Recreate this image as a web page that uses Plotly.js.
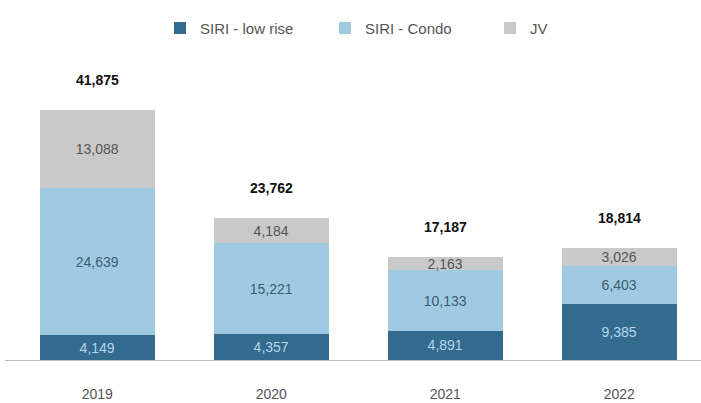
<!DOCTYPE html>
<html><head><meta charset="utf-8">
<script src="https://cdn.plot.ly/plotly-3.0.1.min.js"></script>
<style>html,body{margin:0;padding:0;background:#fff;}#chart{width:701px;height:403px;}</style>
</head><body><div id="chart"></div>
<script>
const years = ['2019','2020','2021','2022'];
const lowRise = [4149, 4357, 4891, 9385];
const condo = [24639, 15221, 10133, 6403];
const jv = [13088, 4184, 2163, 3026];
const totals = [41875, 23762, 17187, 18814];

const fmt = v => v.toLocaleString('en-US');
const font = 'Liberation Sans, Arial, sans-serif';

const traces = [
  {type:'bar', name:'SIRI - low rise', x:years, y:lowRise, marker:{color:'#336b8f'},
   text:lowRise.map(fmt), textposition:'inside', insidetextanchor:'middle', textangle:0, constraintext:'none',
   textfont:{color:'#b3d6ec', size:14, family:font}, hoverinfo:'skip'},
  {type:'bar', name:'SIRI - Condo', x:years, y:condo, marker:{color:'#9fcae2'},
   text:condo.map(fmt), textposition:'inside', insidetextanchor:'middle', textangle:0, constraintext:'none',
   textfont:{color:'#3d5d73', size:14, family:font}, hoverinfo:'skip'},
  {type:'bar', name:'JV', x:years, y:jv, marker:{color:'#c9c9c9'},
   text:jv.map(fmt), textposition:'inside', insidetextanchor:'middle', textangle:0, constraintext:'none',
   textfont:{color:'#555555', size:14, family:font}, hoverinfo:'skip'}
];

const annotations = years.map((yr, i) => ({
  x: i, y: totals[i], xref:'x', yref:'y', text: fmt(totals[i]),
  showarrow:false, yanchor:'middle', yshift:30,
  font:{color:'#111', size:14, family:font, weight:'bold'}
}));

const layout = {
  width:701, height:403,
  margin:{l:5, r:0, t:60, b:43},
  barmode:'stack', bargap:0.34,
  paper_bgcolor:'#fff', plot_bgcolor:'#fff',
  font:{family:font, color:'#555', size:13},
  showlegend:true,
  legend:{orientation:'h', x:160/701, xanchor:'left', xref:'container', yref:'container', y:0.93, yanchor:'middle',
    font:{size:15, color:'#555', family:font}, traceorder:'normal', entrywidth:120, entrywidthmode:'pixels'},
  xaxis:{type:'category', range:[-0.53, 3.47], showgrid:false, showline:true, linecolor:'#bbb', linewidth:1,
    ticks:'', tickfont:{size:14, color:'#555'}, ticklabelstandoff:21, zeroline:false},
  yaxis:{range:[0, 50250], visible:false, showgrid:false, zeroline:false},
  annotations: annotations
};

Plotly.newPlot('chart', traces, layout, {staticPlot:true, displayModeBar:false});
</script></body></html>
